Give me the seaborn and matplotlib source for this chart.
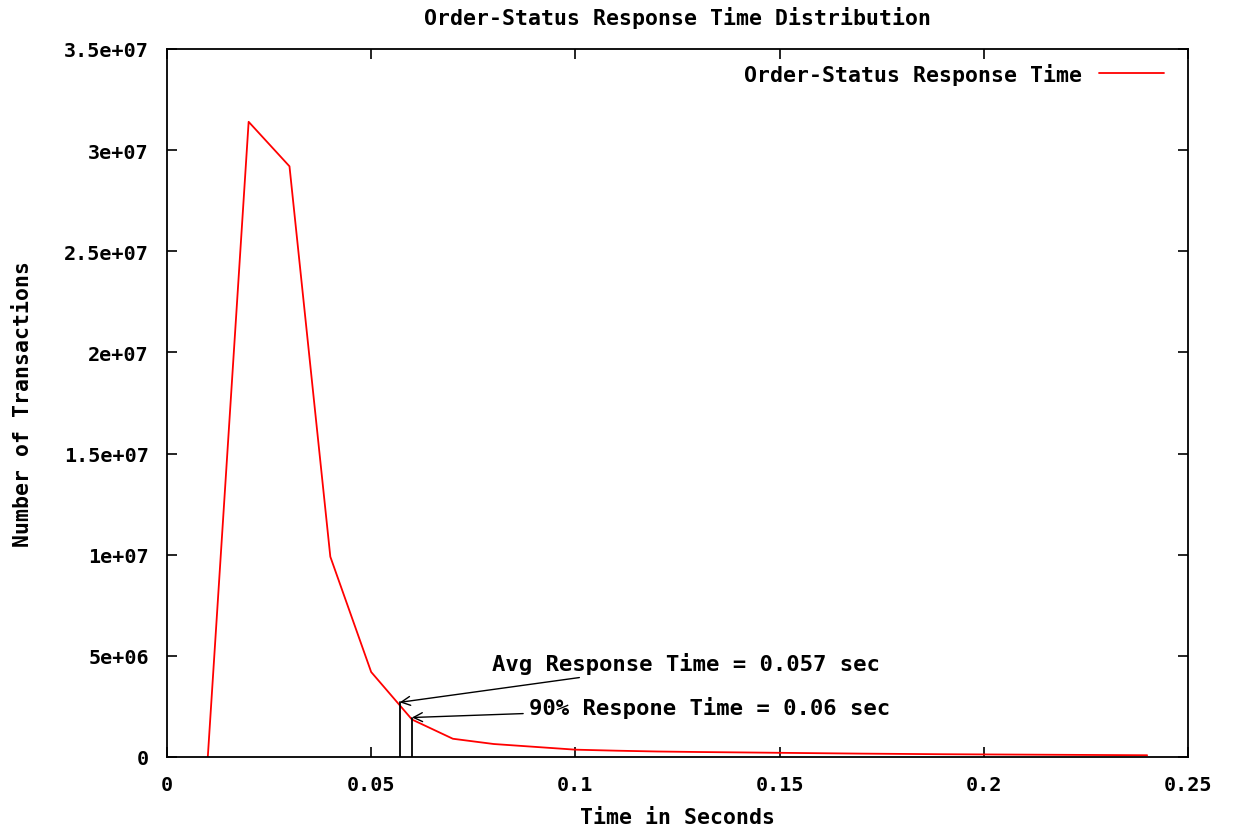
import numpy as np
import pandas as pd
import matplotlib
matplotlib.use("Agg")
import matplotlib.pyplot as plt
import seaborn as sns

# Response time buckets (seconds) and transaction counts
time_sec = [0.01, 0.02, 0.03, 0.04, 0.05, 0.06, 0.07, 0.08, 0.09, 0.10,
            0.11, 0.12, 0.13, 0.14, 0.15, 0.16, 0.17, 0.18, 0.19, 0.20,
            0.21, 0.22, 0.23, 0.24]
transactions = [0.0, 3.14e7, 2.92e7, 0.99e7, 4.2e6, 1.85e6, 9.0e5, 6.4e5, 5.0e5, 3.6e5,
                3.1e5, 2.7e5, 2.45e5, 2.25e5, 2.05e5, 1.85e5, 1.65e5, 1.5e5, 1.35e5, 1.25e5,
                1.15e5, 1.05e5, 9.5e4, 8.5e4]

# Marker lines for average and 90th percentile
avg_time, avg_count = 0.057, 2.7e6
p90_time, p90_count = 0.06, 1.95e6

ytick_vals = [0, 5e6, 1e7, 1.5e7, 2e7, 2.5e7, 3e7, 3.5e7]
ytick_labels = ["0", "5e+06", "1e+07", "1.5e+07", "2e+07", "2.5e+07", "3e+07", "3.5e+07"]
xtick_vals = [0, 0.05, 0.1, 0.15, 0.2, 0.25]
xtick_labels = ["0", "0.05", "0.1", "0.15", "0.2", "0.25"]

df = pd.DataFrame({"time": time_sec, "count": transactions})

sns.set_theme(style="white")
plt.rcParams["font.family"] = ["DejaVu Sans Mono"]
plt.rcParams["font.weight"] = "bold"
plt.rcParams["text.color"] = "black"
plt.rcParams["axes.labelcolor"] = "black"
plt.rcParams["xtick.color"] = "black"
plt.rcParams["ytick.color"] = "black"
fs = 15.5
tfs = 14.5

fig = plt.figure(figsize=(12.34, 8.29), dpi=100)
ax = fig.add_axes([0.1353, 0.0857, 0.8274, 0.854])

sns.lineplot(data=df, x="time", y="count", ax=ax, color="red", linewidth=1.3,
             label="Order-Status Response Time")

# vertical marker lines
ax.plot([avg_time, avg_time], [0, avg_count], color="black", linewidth=1.3)
ax.plot([p90_time, p90_time], [0, p90_count], color="black", linewidth=1.3)

ax.annotate("Avg Response Time = 0.057 sec", xy=(avg_time, avg_count),
            xytext=(0.0795, 4.65e6), fontsize=16, fontweight="bold",
            va="center", ha="left",
            arrowprops=dict(arrowstyle="->", color="black", lw=1.0,
                            shrinkA=2, shrinkB=0))
ax.annotate("90% Respone Time = 0.06 sec", xy=(p90_time, p90_count),
            xytext=(0.0887, 2.47e6), fontsize=16, fontweight="bold",
            va="center", ha="left",
            arrowprops=dict(arrowstyle="->", color="black", lw=1.0,
                            shrinkA=2, shrinkB=0))

ax.set_xlim(0, 0.25)
ax.set_ylim(0, 3.5e7)
ax.set_xticks(xtick_vals)
ax.set_xticklabels(xtick_labels, fontsize=tfs, fontweight="bold")
ax.set_yticks(ytick_vals)
ax.set_yticklabels(ytick_labels, fontsize=tfs, fontweight="bold")
ax.tick_params(axis="x", direction="in", length=7, width=1.2, top=True,
               bottom=True, pad=13)
ax.tick_params(axis="y", direction="in", length=7, width=1.2, left=True,
               right=True, pad=13)

for sp in ax.spines.values():
    sp.set_visible(True)
    sp.set_color("black")
    sp.set_linewidth(1.3)

ax.set_xlabel("Time in Seconds", fontsize=fs, fontweight="bold", labelpad=9)
ax.set_ylabel("Number of Transactions", fontsize=fs, fontweight="bold", labelpad=22)
ax.set_title("Order-Status Response Time Distribution", fontsize=fs,
             fontweight="bold", pad=18)

leg = ax.legend(loc="upper right", bbox_to_anchor=(0.988, 0.997), frameon=False,
                fontsize=fs, markerfirst=False, handlelength=3.0,
                borderaxespad=0.15, prop={"weight": "bold", "size": fs})

fig.savefig("out.png", dpi=100)
